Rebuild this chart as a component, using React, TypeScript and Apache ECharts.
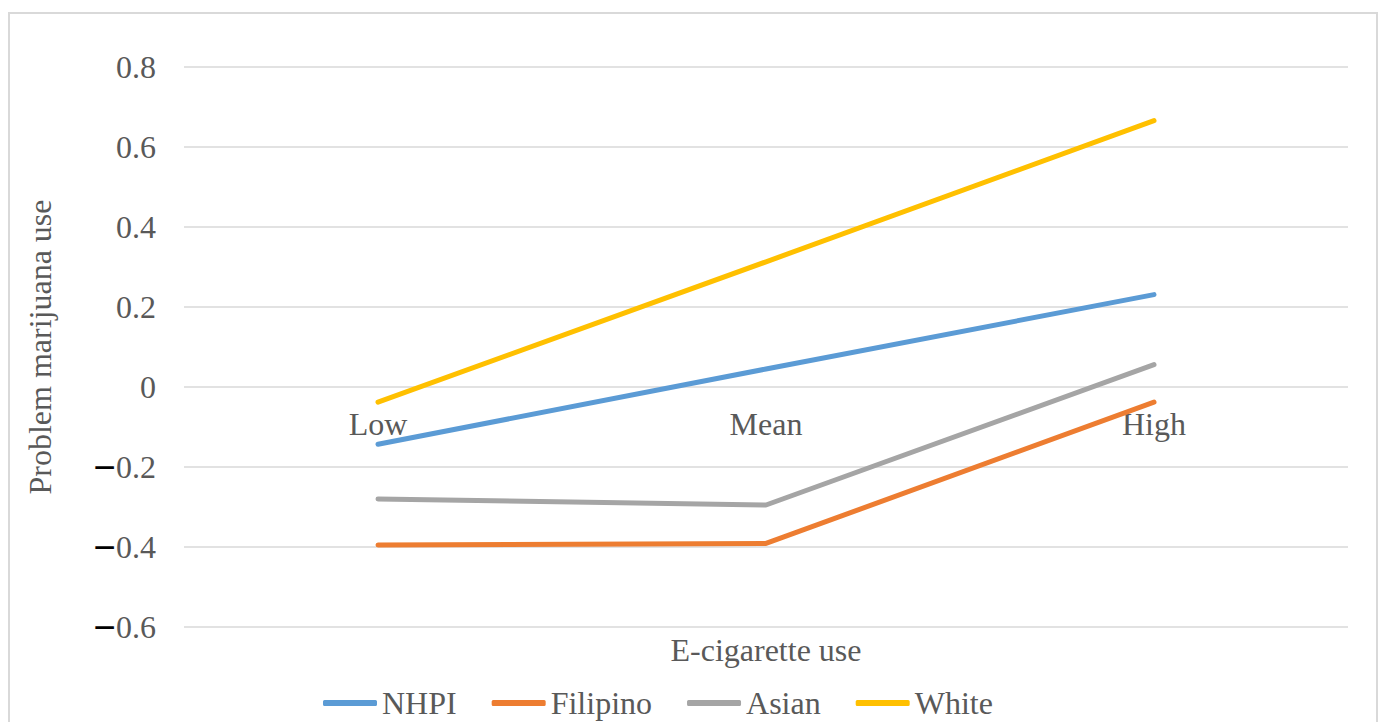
import React, { useEffect, useRef } from "react";
import * as echarts from "echarts";

const categories = ["Low", "Mean", "High"];
const seriesNames = ["NHPI", "Filipino", "Asian", "White"];
const nhpiValues = [-0.143, 0.045, 0.231];
const filipinoValues = [-0.395, -0.391, -0.038];
const asianValues = [-0.28, -0.295, 0.056];
const whiteValues = [-0.038, 0.313, 0.666];
const seriesColors = ["#5B9BD5", "#ED7D31", "#A5A5A5", "#FFC000"];
const yMin = -0.6;
const yMax = 0.8;
const yInterval = 0.2;

const FONT = "'Liberation Serif', 'Times New Roman', serif";
const TEXT = "#595959";

export default function App() {
  const ref = useRef<HTMLDivElement>(null);
  useEffect(() => {
    if (!ref.current) return;
    const chart = echarts.init(ref.current, null, { renderer: "svg" });
    const data = [nhpiValues, filipinoValues, asianValues, whiteValues];
    chart.setOption({
      animation: false,
      backgroundColor: "#ffffff",
      textStyle: { fontFamily: FONT },
      graphic: [
        {
          type: "rect",
          shape: { x: 9, y: 13, width: 1368, height: 730 },
          style: { fill: "none", stroke: "#d9d9d9", lineWidth: 2 },
          silent: true,
        },
      ],
      grid: {
        left: 184,
        right: 34,
        top: 67,
        bottom: 95,
        containLabel: false,
        outerBoundsMode: "none",
      },
      legend: {
        left: 318,
        top: 682,
        icon: "roundRect",
        itemWidth: 54,
        itemHeight: 6,
        itemGap: 35,
        data: seriesNames,
        textStyle: { fontFamily: FONT, fontSize: 32, color: TEXT },
      },
      xAxis: {
        type: "category",
        data: categories,
        boundaryGap: true,
        position: "bottom",
        axisLine: { show: false, onZero: false },
        axisTick: { show: false },
        axisLabel: { fontFamily: FONT, fontSize: 32, color: TEXT, margin: -219 },
        name: "E-cigarette use",
        nameLocation: "middle",
        nameGap: 7,
        nameMoveOverlap: false,
        nameTextStyle: { fontFamily: FONT, fontSize: 32, color: TEXT },
      },
      yAxis: {
        type: "value",
        min: yMin,
        max: yMax,
        interval: yInterval,
        axisLine: { show: false },
        axisTick: { show: false },
        splitLine: { lineStyle: { color: "#d9d9d9", width: 1.5 } },
        axisLabel: {
          margin: 28,
          formatter: (v: number) => {
            const r = Math.round(v * 10) / 10;
            if (r === 0) return "{n|0}";
            if (r < 0) return "{d|−}{n|" + Math.abs(r).toFixed(1) + "}";
            return "{n|" + r.toFixed(1) + "}";
          },
          rich: {
            n: { fontFamily: FONT, fontSize: 32, color: TEXT },
            d: { fontFamily: FONT, fontSize: 40, fontWeight: "bold", color: "#000000" },
          },
        },
        name: "Problem marijuana use",
        nameLocation: "middle",
        nameGap: 128,
        nameRotate: 90,
        nameMoveOverlap: false,
        nameTextStyle: { fontFamily: FONT, fontSize: 32, color: TEXT },
      },
      series: seriesNames.map((name, i) => ({
        name,
        type: "line",
        data: data[i],
        symbol: "none",
        color: seriesColors[i],
        lineStyle: { width: 5, color: seriesColors[i], cap: "round", join: "round" },
      })),
    });
    return () => chart.dispose();
  }, []);
  return (
    <div
      ref={ref}
      style={{ position: "fixed", left: 0, top: 0, width: 1382, height: 722 }}
    />
  );
}
